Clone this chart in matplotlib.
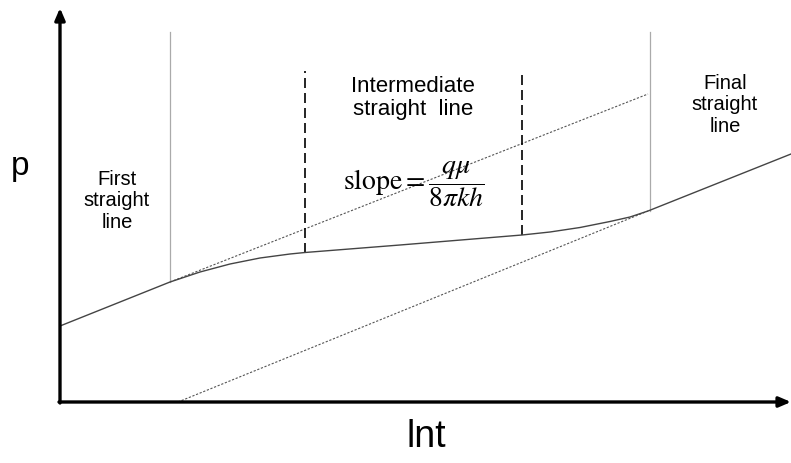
import matplotlib
matplotlib.use('Agg')
import matplotlib.pyplot as plt

plt.rcParams['font.family'] = ['Liberation Sans', 'DejaVu Sans']
plt.rcParams['mathtext.fontset'] = 'stix'

# pressure response vs ln(t), schematic units
int_t = [0, 110, 140, 170, 200, 230, 245, 340, 462, 490, 520, 550, 570, 588, 731]
p_resp = [76, 120, 130, 138, 144, 148, 149.5, 157, 167, 170, 174.5, 180.5, 185, 191, 248]

# extrapolated straight lines (dotted)
mid_line_x = [110, 588]
mid_line_p = [120, 308]
final_line_x = [118, 588]
final_line_p = [0, 191]

# boundaries between the flow regimes
solid_bounds_x = [110, 590]
solid_bounds_lo = [120, 191]
solid_top = 370
dashed_bounds_x = [245, 462]
dashed_bounds_lo = [149.5, 167]
dashed_top = 331

fig = plt.figure(figsize=(7.91, 4.64), dpi=100)
ax = fig.add_axes([0, 0, 1, 1])
ax.set_xlim(-60, 731)
ax.set_ylim(-61, 403)
ax.axis('off')

# axes with arrow heads
head = dict(arrowstyle='-|>,head_length=0.7,head_width=0.3',
            lw=2.4, color='black', shrinkA=0, shrinkB=0)
ax.annotate('', xy=(0, 394), xytext=(0, -1), arrowprops=head,
            annotation_clip=False)
ax.annotate('', xy=(731, 0), xytext=(-1, 0), arrowprops=head,
            annotation_clip=False)

ax.plot(mid_line_x, mid_line_p, color='#555555', lw=0.8, ls=(0, (2, 1.5)))
ax.plot(final_line_x, final_line_p, color='#555555', lw=0.8, ls=(0, (2, 1.5)))

for x, lo in zip(solid_bounds_x, solid_bounds_lo):
    ax.plot([x, x], [lo, solid_top], color='#aaaaaa', lw=0.9)
for x, lo in zip(dashed_bounds_x, dashed_bounds_lo):
    ax.plot([x, x], [lo, dashed_top], color='black', lw=1.2, ls=(0, (6, 3)))

ax.plot(int_t, p_resp, color='#444444', lw=1.0)

ax.text(-40, 236, 'p', fontsize=24, ha='center', va='center')
ax.text(366, -34, 'lnt', fontsize=27, ha='center', va='center')
ax.text(57, 202, 'First\nstraight\nline', fontsize=14.5, ha='center', va='center',
        linespacing=1.15)
ax.text(665, 298, 'Final\nstraight\nline', fontsize=14.5, ha='center', va='center',
        linespacing=1.15)
ax.text(353, 305, 'Intermediate\nstraight  line', fontsize=16, ha='center', va='center',
        linespacing=1.15)
ax.text(354, 219, r'$\mathrm{slope} = \dfrac{q\mu}{8\pi kh}$', fontsize=20,
        ha='center', va='center')

fig.savefig('out.png', dpi=100)
